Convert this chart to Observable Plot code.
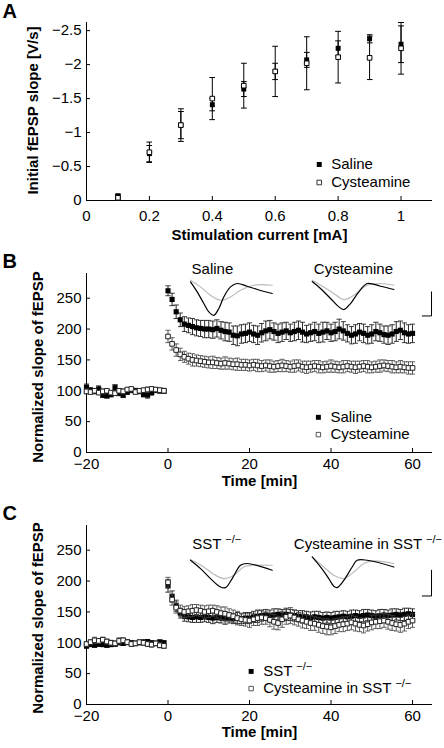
<!DOCTYPE html>
<html><head><meta charset="utf-8">
<script src="https://cdn.jsdelivr.net/npm/d3@7"></script>
<script src="https://cdn.jsdelivr.net/npm/@observablehq/plot@0.6"></script>
<style>
html,body{margin:0;padding:0;background:#fff;overflow:hidden;}
svg{display:block;}
</style></head><body>
<div id="chart"></div>
<script>
// ---------- Panel A data ----------
const currents = [0.1, 0.2, 0.3, 0.4, 0.5, 0.6, 0.7, 0.8, 0.9, 1.0];
const salineSlope = [-0.07, -0.69, -1.11, -1.41, -1.64, -1.90, -2.07, -2.24, -2.38, -2.30];
const salineSlopeErr = [0.02, 0.12, 0.20, 0.09, 0.11, 0.12, 0.11, 0.11, 0.06, 0.27];
const cysSlope = [-0.04, -0.71, -1.11, -1.50, -1.69, -1.90, -2.02, -2.11, -2.10, -2.24];
const cysSlopeErr = [0.02, 0.15, 0.24, 0.31, 0.33, 0.37, 0.39, 0.38, 0.32, 0.38];
const xTicksA = [0, 0.2, 0.4, 0.6, 0.8, 1];
const yTicksA = [0, -0.5, -1, -1.5, -2, -2.5];
const legendA = ["Saline", "Cysteamine"];
const legendAX = [0.74, 0.74];
const legendAY = [-0.53, -0.265];

// ---------- Time axis (B, C) ----------
const timeMin = [-20,-19,-18,-17,-16,-15,-14,-13,-12,-11,-10,-9,-8,-7,-6,-5,-4,-3,-2,-1,
  0,1,2,3,4,5,6,7,8,9,10,11,12,13,14,15,16,17,18,19,20,21,22,23,24,25,26,27,28,29,
  30,31,32,33,34,35,36,37,38,39,40,41,42,43,44,45,46,47,48,49,50,51,52,53,54,55,56,57,58,59,60];
const timeTicks = [-20, 0, 20, 40, 60];
const slopeTicks = [0, 50, 100, 150, 200, 250];

// ---------- Panel B data ----------
const bSaline = [106,101,99,103,93,92,94,105,96,93,98,101,100,99,94,93,97,101,100,99,
  262,248,228,215,208,206,204,202,201,200, 200,199,201,198,196,195,190,189,192,193,
  195,192,190,194,197,199,196,193,195,197, 194,196,198,195,192,194,196,193,195,197,
  194,196,200,197,193,190,192,195,193,190, 192,196,194,191,190,192,196,198,194,192, 193];
const bSalineErr = [5,4,4,5,4,4,4,5,4,4,4,4,4,4,4,5,4,4,4,3,
  8,10,11,11,12,12,13,13,13,14, 14,14,14,14,15,15,15,16,15,15,
  15,14,15,15,16,15,14,15,15,14, 14,15,15,16,14,14,15,15,16,14,
  14,15,16,15,14,14,15,14,15,14, 15,15,14,14,15,15,16,15,16,15, 15];
const bCys = [99,98,100,97,99,100,97,96,100,99,102,103,98,100,101,102,103,102,101,100,
  188,176,166,159,155,152,150,149,148,147, 146,146,145,144,145,144,143,143,142,142,
  141,142,141,140,141,140,139,140,141,140, 139,140,141,139,138,139,140,139,138,139,
  140,139,138,139,140,139,138,139,140,139, 138,139,140,141,140,139,138,139,138,137, 137];
const bCysErr = [4,3,3,3,4,3,3,3,3,4,3,3,3,3,3,4,3,3,3,4,
  10,10,10,10,9,9,10,9,9,9, 9,10,9,9,10,9,9,10,9,9,
  9,9,10,9,9,10,9,9,10,9, 9,10,9,9,10,9,9,10,9,9,
  10,9,9,10,9,9,10,9,9,10, 9,9,10,9,9,10,9,10,9,10, 10];
const legendB = ["Saline", "Cysteamine"];
const legendBX = [36.9, 36.9];
const legendBY = [57, 29];
const titlesB = ["Saline", "Cysteamine"];
const titlesBX = [10.9, 45.5];
const titlesBY = [297, 297];
// inset traces B (drawn in panel coordinates)
const bSalBlackX = [5.52,7.16,8.79,10.01,11.24,12.47,13.69,15.34,16.98,19.44,21.89,25.57];
const bSalBlackY = [276.4,260.2,241.3,227.7,222.3,233.2,252.0,268.3,273.8,269.4,264.1,257.6];
const bSalGrayX = [5.52,7.98,10.43,12.88,15.34,17.79,21.06,25.57];
const bSalGrayY = [279.2,268.3,254.8,246.7,252.0,262.9,271.0,271.0];
const bCysBlackX = [35.38,37.42,39.88,41.92,43.14,44.79,46.82,48.88,52.15,55.42];
const bCysBlackY = [277.0,265.7,249.5,235.9,231.6,241.3,260.2,273.8,269.4,264.1];
const bCysGrayX = [35.38,38.23,40.69,43.14,45.60,48.88,52.15,55.42];
const bCysGrayY = [279.2,268.3,257.6,247.8,254.8,271.0,273.8,271.0];
const bScaleBarX = [64.66, 64.66, 62.38];
const bScaleBarY = [260.2, 221.2, 221.2];

// ---------- Panel C data ----------
const cSst = [95,97,96,98,97,96,97,98,100,99,101,100,99,100,101,102,100,99,101,100,
  192,175,160,148,143,142,141,142,141,142, 141,140,141,140,139,140,139,140,139,140,
  140,142,143,144,145,144,145,146,145,146, 145,144,143,142,142,141,142,141,140,141,
  140,141,142,143,142,143,144,143,144,145, 144,143,144,145,144,145,146,145,146,147, 146];
const cSstErr = [4,3,3,4,3,3,3,4,3,3,4,3,3,3,4,3,3,3,4,3,
  10,9,9,8,8,8,8,9,8,8, 8,9,8,8,9,8,8,9,8,9,
  9,9,10,9,9,9,10,9,9,10, 9,9,9,10,9,9,9,10,9,9,
  9,10,9,9,9,10,9,9,10,9, 9,9,10,9,9,10,9,9,10,9, 9];
const cCysSst = [98,101,104,103,105,102,100,99,103,104,101,98,99,101,100,98,97,99,96,95,
  198,170,157,152,150,151,152,153,152,150, 151,152,150,148,147,145,143,140,138,137,
  136,138,140,141,140,137,134,132,138,142, 144,141,138,136,134,132,131,129,127,126,
  125,127,129,130,131,133,131,129,128,130, 133,134,135,136,134,132,130,129,131,134, 136];
const cCysSstErr = [4,4,5,4,4,4,4,4,5,4,4,4,4,4,4,4,4,4,4,4,
  8,9,9,9,9,9,10,9,9,10, 10,9,10,10,11,10,10,11,10,10,
  11,10,12,11,10,11,12,11,13,12, 13,12,11,12,11,12,11,12,12,13,
  12,12,11,12,11,12,12,11,12,11, 12,11,12,11,12,12,11,12,12,11, 11];
const legendC = ["SST ^−/−", "Cysteamine in SST ^−/−"];
const legendCX = [20.4, 20.4];
const legendCY = [53.6, 25.8];
const titlesC = ["SST ^−/−", "Cysteamine in SST ^−/−"];
const titlesCX = [5.94, 30.87];
const titlesCY = [259, 259];
const cSstBlackX = [5.52,7.98,10.43,12.88,14.11,15.75,17.79,19.44,25.57];
const cSstBlackY = [233.7,220.2,204.0,190.4,189.4,204.0,225.6,228.4,217.5];
const cSstGrayX = [5.52,8.79,11.24,13.69,16.15,18.60,21.06,25.57];
const cSstGrayY = [234.8,222.8,211.0,204.0,209.4,222.8,225.6,225.6];
const cCysBlackX = [35.38,37.42,39.45,40.69,41.51,43.14,45.19,46.42,48.88,55.42];
const cCysBlackY = [239.1,222.8,204.0,191.5,189.4,201.2,222.8,233.7,233.7,222.8];
const cCysGrayX = [35.38,38.23,40.69,43.14,45.60,48.06,50.51,55.42];
const cCysGrayY = [239.1,222.8,209.4,204.0,214.7,228.4,232.6,228.4];
const cScaleBarX = [64.66, 64.66, 62.38];
const cScaleBarY = [217.5, 175.8, 175.8];

// ---------- helpers ----------
const FONT = "'Liberation Sans', Arial, Helvetica, sans-serif";
const fmt = d3.format("~g");
const rows = (xs, vs, es) => xs.map((x, i) => ({x, y: vs[i], lo: vs[i] - es[i], hi: vs[i] + es[i]}));
const pts = (xs, ys) => xs.map((x, i) => ({x, y: ys[i]}));
const labelRows = (labels, xs, ys) => labels.map((t, i) => ({t, x: xs[i], y: ys[i]}));

function superscripts(svg) {
  svg.querySelectorAll("text").forEach(t => {
    if (t.children.length === 0 && t.textContent.includes("^")) {
      const [a, b] = t.textContent.split("^");
      t.textContent = a;
      const ts = document.createElementNS("http://www.w3.org/2000/svg", "tspan");
      ts.setAttribute("dy", "-6");
      ts.setAttribute("font-size", "11");
      ts.textContent = b;
      t.appendChild(ts);
    }
  });
}

function errMarks(data, stroke, sw) {
  return Plot.link(data, {x1: "x", x2: "x", y1: "lo", y2: "hi", stroke, strokeWidth: sw,
    markerStart: "tick", markerEnd: "tick"});
}
const filledDot = (data, r) => Plot.dot(data, {x: "x", y: "y", symbol: "square", r, fill: "black", stroke: "none"});
const openDot = (data, r, stroke) => Plot.dot(data, {x: "x", y: "y", symbol: "square", r, fill: "white", stroke, strokeWidth: 1});

const chart = document.getElementById("chart");

// ---------- Panel A ----------
{
  const sal = rows(currents, salineSlope, salineSlopeErr);
  const cys = rows(currents, cysSlope, cysSlopeErr);
  const leg = labelRows(legendA, legendAX, legendAY);
  const svg = Plot.plot({
    width: 444, height: 250, marginTop: 22, marginBottom: 50, marginLeft: 86, marginRight: 12,
    style: {fontFamily: FONT, fontSize: "15px", background: "white", color: "black", overflow: "visible"},
    x: {domain: [0, 1.1]},
    y: {domain: [0, -2.62]},
    marks: [
      Plot.axisX({ticks: xTicksA, tickSize: -4, tickPadding: 14, tickFormat: fmt, label: null}),
      Plot.axisY({ticks: yTicksA, tickSize: -4, tickPadding: 9, tickFormat: fmt, label: null}),
      Plot.ruleX([0]), Plot.ruleY([0]),
      errMarks(sal, "black", 1),
      errMarks(cys, "black", 1),
      filledDot(sal, 2.8),
      openDot(cys, 2.6, "black"),
      filledDot(leg.slice(0, 1), 2.8),
      openDot(leg.slice(1), 2.6, "#333"),
      Plot.text(leg, {x: "x", y: "y", text: "t", textAnchor: "start", dx: 12}),
      Plot.text(["Stimulation current [mA]"], {frameAnchor: "bottom", textAnchor: "middle", lineAnchor: "top", dy: 29, fontWeight: "bold"}),
      Plot.text(["Initial fEPSP slope [V/s]"], {frameAnchor: "left", textAnchor: "middle", rotate: -90, lineAnchor: "top", dx: -59, dy: -1, fontWeight: "bold"}),
      Plot.text(["A"], {frameAnchor: "top-left", textAnchor: "start", lineAnchor: "top", dx: -84, dy: -19, fontSize: 20, fontWeight: "bold"})
    ]
  });
  chart.appendChild(svg);
}

// ---------- Panels B and C ----------
function timePanel(cfg) {
  const f = rows(timeMin, cfg.filled, cfg.filledErr);
  const o = rows(timeMin, cfg.open, cfg.openErr);
  const leg = labelRows(cfg.legend, cfg.legendX, cfg.legendY);
  const tit = labelRows(cfg.titles, cfg.titlesX, cfg.titlesY);
  const svg = Plot.plot({
    width: 444, height: cfg.height, marginTop: cfg.marginTop, marginBottom: cfg.marginBottom, marginLeft: 86, marginRight: 12,
    style: {fontFamily: FONT, fontSize: "15px", background: "white", color: "black", overflow: "visible"},
    x: {domain: [-20, 64.9]},
    y: {domain: [0, 290]},
    marks: [
      Plot.axisX({ticks: timeTicks, tickSize: -4, tickPadding: 10, tickFormat: fmt, label: null}),
      Plot.axisY({ticks: slopeTicks, tickSize: -4, tickPadding: 9, tickFormat: fmt, label: null}),
      Plot.ruleX([-20]), Plot.ruleY([0]),
      ...cfg.traces.map(([xs, ys, c]) => Plot.line(pts(xs, ys), {x: "x", y: "y", stroke: c, strokeWidth: 1.2, curve: "catmull-rom"})),
      Plot.line(pts(cfg.barX, cfg.barY), {x: "x", y: "y", stroke: "black", strokeWidth: 1}),
      errMarks(f, "#111", 0.9),
      filledDot(f, 2.9),
      errMarks(o, "#444", 0.9),
      openDot(o, 2.6, "#222"),
      filledDot(leg.slice(0, 1), 2.8),
      openDot(leg.slice(1), 2.5, "#555"),
      Plot.text(leg, {x: "x", y: "y", text: "t", textAnchor: "start", dx: 12}),
      Plot.text(tit, {x: "x", y: "y", text: "t", textAnchor: cfg.titleAnchor}),
      Plot.text(["Time [min]"], {frameAnchor: "bottom", textAnchor: "middle", lineAnchor: "top", dy: cfg.xLabelDy, fontWeight: "bold"}),
      Plot.text(["Normalized slope of fEPSP"], {frameAnchor: "left", textAnchor: "middle", rotate: -90, lineAnchor: "top", dx: -54, dy: cfg.yLabelDy, fontWeight: "bold"}),
      Plot.text([cfg.letter], {frameAnchor: "top-left", textAnchor: "start", lineAnchor: "top", dx: -84, dy: cfg.letterDy, fontSize: 20, fontWeight: "bold"})
    ]
  });
  superscripts(svg);
  chart.appendChild(svg);
}

timePanel({
  letter: "B", height: 250, marginTop: 23, marginBottom: 48, letterDy: -20, xLabelDy: 23, yLabelDy: 4,
  filled: bSaline, filledErr: bSalineErr, open: bCys, openErr: bCysErr,
  legend: legendB, legendX: legendBX, legendY: legendBY,
  titles: titlesB, titlesX: titlesBX, titlesY: titlesBY, titleAnchor: "middle",
  traces: [[bSalGrayX, bSalGrayY, "#bbb"], [bSalBlackX, bSalBlackY, "black"], [bCysGrayX, bCysGrayY, "#bbb"], [bCysBlackX, bCysBlackY, "black"]],
  barX: bScaleBarX, barY: bScaleBarY
});
timePanel({
  letter: "C", height: 248, marginTop: 25, marginBottom: 44, letterDy: -20, xLabelDy: 22, yLabelDy: 3,
  filled: cSst, filledErr: cSstErr, open: cCysSst, openErr: cCysSstErr,
  legend: legendC, legendX: legendCX, legendY: legendCY,
  titles: titlesC, titlesX: titlesCX, titlesY: titlesCY, titleAnchor: "start",
  traces: [[cSstGrayX, cSstGrayY, "#bbb"], [cSstBlackX, cSstBlackY, "black"], [cCysGrayX, cCysGrayY, "#bbb"], [cCysBlackX, cCysBlackY, "black"]],
  barX: cScaleBarX, barY: cScaleBarY
});
</script>
</body></html>
